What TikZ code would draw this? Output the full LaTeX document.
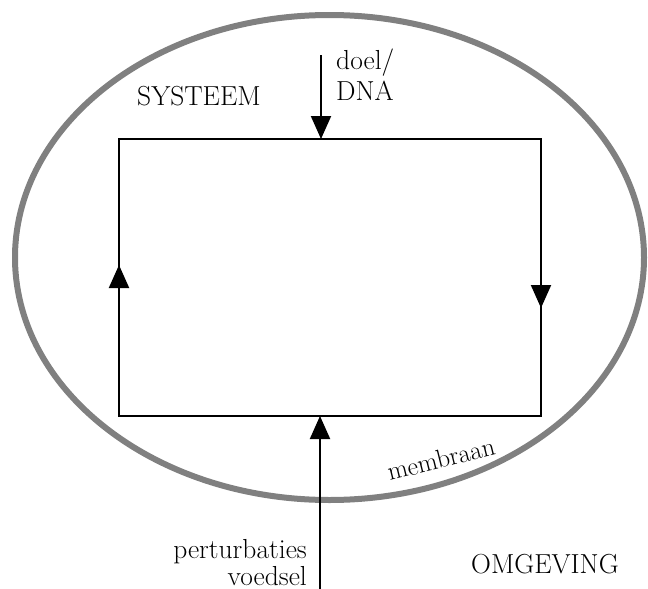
\documentclass[tikz,border=0pt]{standalone}
\usetikzlibrary{arrows.meta,shapes.geometric}
\begin{document}
\begin{tikzpicture}[x=1pt,y=-1pt,
  arr/.style={line width=2pt,-{Triangle[length=23pt,width=20pt]}},
  lbl/.style={inner sep=0pt,font=\fontsize{27.5}{29}\selectfont},
  memb/.style={inner sep=0pt,font=\fontsize{26}{28}\selectfont}]
\useasboundingbox (0,0) rectangle (648,589);
\fill[white] (0,0) rectangle (648,589);
\node[draw=gray,line width=6pt,ellipse,minimum width=629pt,minimum height=485pt,inner sep=0pt,outer sep=0pt] (memb) at (329.5,257.5) {};
\node[draw,line width=2pt,minimum width=422pt,minimum height=277pt,inner sep=0pt,outer sep=0pt,anchor=north west] (box) at (119,139) {};
\coordinate (dtop) at (321,55);
\coordinate (pbot) at (320,589);
\coordinate (lmid) at (119,265);
\coordinate (rmid) at (541,308);
\draw[arr] (dtop) -- (dtop |- box.north);
\draw[arr] (pbot) -- (pbot |- box.south);
\draw[arr] (box.south west) -- (lmid);
\draw[arr] (box.north east) -- (rmid);
\node[lbl,anchor=base west] (doel) at (336,69) {doel/};
\node[lbl,anchor=base west] (dna) at (336,100) {DNA};
\node[lbl,anchor=base west] (sys) at (137,105) {SYSTEEM};
\node[lbl,anchor=base east] (pert) at (307,558) {perturbaties};
\node[lbl,anchor=base east] (voed) at (307,585) {voedsel};
\node[lbl,anchor=base] (omg) at (545,573) {OMGEVING};
\node[memb,rotate=14] (mbr) at (441,459) {membraan};
\end{tikzpicture}
\end{document}
